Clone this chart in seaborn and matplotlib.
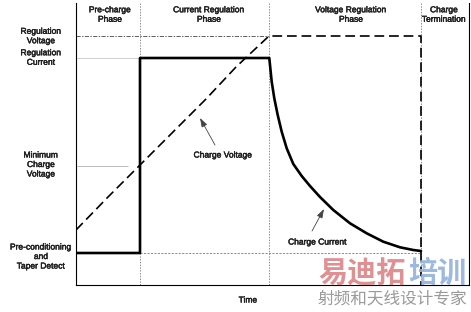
import matplotlib
matplotlib.use("Agg")
import matplotlib.pyplot as plt
import matplotlib.patheffects as pe
import seaborn as sns
import pandas as pd

# Time axis and level axis share one unit per pixel of plot area
phase_edges = [64, 193, 345]
phase_names = ["Pre-charge\nPhase", "Current Regulation\nPhase",
               "Voltage Regulation\nPhase", "Charge\nTermination"]
phase_label_x = [34, 133, 275, 368]

level_values = [249, 227, 119, 32]
level_names = ["Regulation\nVoltage", "Regulation\nCurrent",
               "Minimum\nCharge\nVoltage", "Pre-conditioning\nand\nTaper Detect"]
level_label_y = [248, 226.5, 119.5, 27.5]

# Charge current: pre-conditioning, constant current, then tapering
current_t = [0, 64, 64, 193.3, 194, 195.7, 198.3, 201.7, 205.7, 210.7,
             217.3, 225.7, 234, 244, 257.3, 274, 290.7, 307.3, 324, 337.3, 345]
current_v = [32, 32, 227, 227, 220, 203.3, 186.7, 170, 153.3, 136.7,
             121, 109, 99, 88, 75, 61.7, 51.7, 43.3, 37.7, 35, 34]

# Charge voltage: rising ramp, regulation plateau, then termination
voltage_t = [0, 32, 64, 100, 130, 160, 193, 345, 345]
voltage_v = [55, 88, 120, 156, 186, 218, 249, 249, 0]

sns.set_theme(style="white")
plt.rcParams["font.family"] = ["Liberation Sans", "DejaVu Sans"]
plt.rcParams["lines.scale_dashes"] = False

fig = plt.figure(figsize=(4.71, 3.12), dpi=100)
ax = fig.add_axes([76 / 471, 27 / 312, 393 / 471, 282 / 312])
ax.set_xlim(0, 393)
ax.set_ylim(0, 282)

# Phase boundaries
for x in phase_edges:
    ax.axvline(x, color="#8a8a8a", lw=0.7, ls=(0, (1, 1)), zorder=1)

# Level guides
ax.hlines(level_values[0], 0, phase_edges[1], color="#444444", lw=0.6,
          ls=(0, (3, 1, 1, 1)), zorder=1)
ax.hlines(level_values[1], 0, phase_edges[0], color="#c8c8c8", lw=0.6, zorder=1)
ax.hlines(level_values[2], 1, 52, color="#b0b0b0", lw=0.6, zorder=1)
ax.hlines(level_values[3], phase_edges[0], phase_edges[2], color="#8a8a8a",
          lw=0.7, ls=(0, (1.5, 1)), zorder=1)

df_i = pd.DataFrame({"t": current_t, "v": current_v})
df_u = pd.DataFrame({"t": voltage_t, "v": voltage_v})
sns.lineplot(data=df_i, x="t", y="v", ax=ax, color="black", lw=1.9,
             estimator=None, sort=False, zorder=3)
sns.lineplot(data=df_u, x="t", y="v", ax=ax, color="black", lw=1.2,
             estimator=None, sort=False, dashes=False, zorder=3)
ax.lines[-1].set_linestyle((0, (7, 3.5)))

ax.set_xlabel("")
ax.set_ylabel("")
ax.set_xticks([])
ax.set_yticks([])
for side in ["left", "bottom", "right"]:
    ax.spines[side].set_visible(True)
    ax.spines[side].set_color("black")
    ax.spines[side].set_linewidth(0.8)
ax.spines["top"].set_visible(False)

fs = 6.1
ls = 1.5
ink = [pe.withStroke(linewidth=0.3, foreground="black")]
for x, name in zip(phase_label_x, phase_names):
    ax.text(x, 269.5, name, ha="center", va="center", fontsize=fs,
            linespacing=ls, clip_on=False, path_effects=ink)
for y, name in zip(level_label_y, level_names):
    ax.text(-35, y, name, ha="center", va="center", fontsize=fs,
            linespacing=ls, clip_on=False, path_effects=ink)

arrow = dict(arrowstyle="-|>,head_length=0.45,head_width=0.15",
             color="#444444", lw=0.6, shrinkA=0, shrinkB=0)
ax.text(147, 129, "Charge Voltage", ha="center", va="center", fontsize=fs,
        path_effects=ink)
ax.annotate("", xy=(124, 167), xytext=(139, 140), arrowprops=arrow)
ax.text(241.5, 42, "Charge Current", ha="center", va="center", fontsize=fs,
        path_effects=ink)
ax.annotate("", xy=(248, 76), xytext=(236, 54), arrowprops=arrow)
ax.text(172, -16, "Time", ha="center", va="center", fontsize=fs,
        clip_on=False, path_effects=ink)

# Site mark
cjk = ["Noto Sans CJK SC", "DejaVu Sans"]
ax.text(242, 12, "易迪拓", ha="left", va="center", fontsize=21,
        fontweight="bold", family=cjk, color="#dc8486", alpha=0.9,
        clip_on=False, zorder=5)
ax.text(332, 12, "培训", ha="left", va="center", fontsize=21,
        fontweight="bold", family=cjk, color="#94b2dc", alpha=0.9,
        clip_on=False, zorder=5)
ax.text(242, -14, "射频和天线设计专家", ha="left", va="center", fontsize=12,
        family=cjk, color="#9a9a9a", clip_on=False, zorder=5)

fig.savefig("out.png", dpi=100, facecolor="white")
